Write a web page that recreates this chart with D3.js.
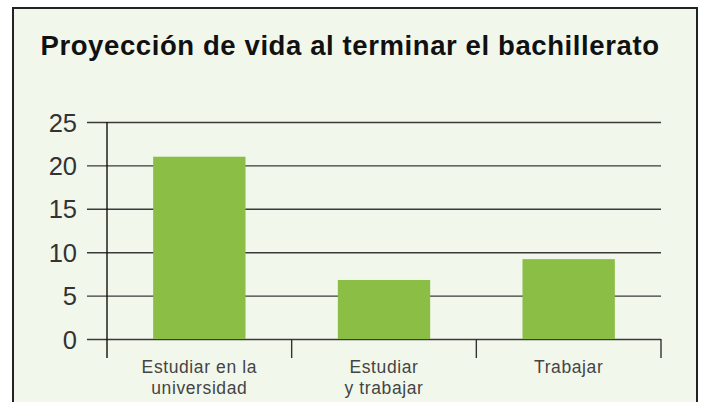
<!DOCTYPE html>
<html>
<head>
<meta charset="utf-8">
<script src="https://cdn.jsdelivr.net/npm/d3@7"></script>
<style>
  body { margin: 0; background: #fff; }
  svg { display: block; }
</style>
</head>
<body>
<div id="chart"></div>
<script>
var categories = [['Estudiar en la', 'universidad'], ['Estudiar', 'y trabajar'], ['Trabajar']];
var values = [21, 6.8, 9.2];
var yTicks = [0, 5, 10, 15, 20, 25];
var title = 'Proyección de vida al terminar el bachillerato';

var width = 703;
var height = 402;

var svg = d3.select('#chart').append('svg')
    .attr('width', width)
    .attr('height', height);

// panel
svg.append('rect')
    .attr('x', 13)
    .attr('y', 8)
    .attr('width', 684)
    .attr('height', 410)
    .attr('fill', '#f2f7ec')
    .attr('stroke', '#222')
    .attr('stroke-width', 2);

svg.append('text')
    .text(title)
    .attr('x', 350)
    .attr('y', 55)
    .attr('text-anchor', 'middle')
    .attr('font-family', 'Liberation Sans, Arial, sans-serif')
    .attr('font-weight', 'bold')
    .attr('font-size', 27.5)
    .attr('letter-spacing', 0.6)
    .attr('fill', '#111');

var x = d3.scaleBand()
    .domain(categories.map((d, i) => i))
    .range([107, 661])
    .paddingInner(0.5)
    .paddingOuter(0.25);

var y = d3.scaleLinear()
    .domain([0, 25])
    .range([339, 122]);

// gridlines + y ticks
var yAxis = d3.axisLeft(y)
    .tickValues(yTicks)
    .tickSize(0)
    .tickFormat(d3.format('d'));

var gy = svg.append('g')
    .attr('transform', 'translate(87,0)')
    .call(yAxis);
gy.select('.domain').remove();
gy.selectAll('.tick line')
    .attr('x2', 661 - 87)
    .attr('stroke', '#3a3a3a')
    .attr('stroke-width', 1.4);
gy.selectAll('.tick text')
    .attr('x', -10)
    .attr('dy', '0.36em')
    .attr('font-family', 'Liberation Sans, Arial, sans-serif')
    .attr('font-size', 25.5)
    .attr('fill', '#333');

// bars
svg.selectAll('rect.bar')
    .data(values)
    .enter()
    .append('rect')
    .attr('class', 'bar')
    .attr('x', (d, i) => x(i))
    .attr('width', x.bandwidth())
    .attr('y', d => y(d))
    .attr('height', d => y(0) - y(d))
    .attr('fill', '#8bbe44');

// y axis line
svg.append('line')
    .attr('x1', 107).attr('x2', 107)
    .attr('y1', y(25)).attr('y2', 358)
    .attr('stroke', '#111')
    .attr('stroke-width', 1.4);

// category separators
var bounds = [1, 2, 3].map(i => 107 + i * (661 - 107) / 3);
svg.selectAll('line.sep')
    .data(bounds)
    .enter()
    .append('line')
    .attr('class', 'sep')
    .attr('x1', d => d).attr('x2', d => d)
    .attr('y1', y(0)).attr('y2', 358)
    .attr('stroke', '#333')
    .attr('stroke-width', 1.4);

// category labels
var labels = svg.selectAll('text.cat')
    .data(categories)
    .enter()
    .append('text')
    .attr('class', 'cat')
    .attr('x', (d, i) => x(i) + x.bandwidth() / 2)
    .attr('y', 373)
    .attr('text-anchor', 'middle')
    .attr('font-family', 'Liberation Sans, Arial, sans-serif')
    .attr('font-size', 17.5)
    .attr('letter-spacing', 0.6)
    .attr('fill', '#444');

labels.each(function (d) {
    var t = d3.select(this);
    d.forEach((line, j) => {
        t.append('tspan')
            .attr('x', t.attr('x'))
            .attr('dy', j === 0 ? 0 : 21)
            .text(line);
    });
});
</script>
</body>
</html>
